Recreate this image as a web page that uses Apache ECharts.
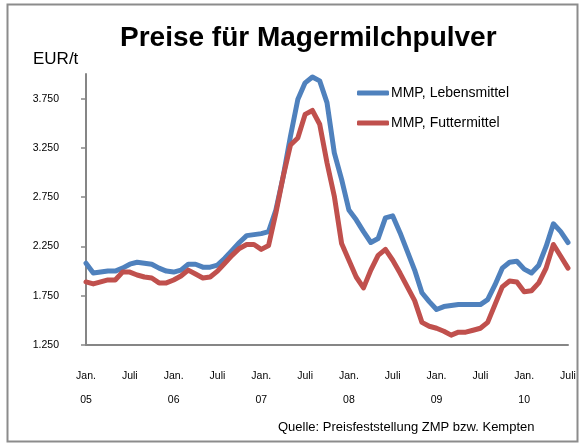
<!DOCTYPE html>
<html>
<head>
    <meta charset="utf-8">
    <title>Preise für Magermilchpulver</title>
    <script src="https://cdn.jsdelivr.net/npm/echarts@6.0.0/dist/echarts.min.js"></script>
    <style>
        html, body { margin: 0; padding: 0; background: #fff; }
    </style>
</head>
<body>
    <div id="main" style="width: 581px;height:443px;"></div>

<script>
// Monatswerte Jan. 05 bis Juli 10, EUR/t
const years = ['05', '06', '07', '08', '09', '10'];
const monthNames = ['Jan.', 'Feb.', 'März', 'Apr.', 'Mai', 'Juni', 'Juli', 'Aug.', 'Sep.', 'Okt.', 'Nov.', 'Dez.'];
const yTicks = [1250, 1750, 2250, 2750, 3250, 3750];

const lebensmittel = [
    2080, 1980, 1990, 2000, 2000, 2030, 2070, 2090, 2080, 2070, 2030, 2000,
    1990, 2010, 2070, 2070, 2040, 2040, 2060, 2130, 2210, 2290, 2360, 2370,
    2380, 2400, 2620, 2960, 3370, 3740, 3910, 3970, 3930, 3710, 3200, 2930,
    2620, 2520, 2400, 2290, 2330, 2540, 2560, 2390, 2200, 2010, 1780, 1690,
    1610, 1640, 1650, 1660, 1660, 1660, 1660, 1710, 1860, 2030, 2090, 2100,
    2020, 1980, 2060, 2250, 2480, 2400, 2290
];
const futtermittel = [
    1890, 1870, 1890, 1910, 1910, 1990, 1990, 1960, 1940, 1930, 1880, 1880,
    1910, 1950, 2010, 1970, 1930, 1940, 2000, 2080, 2160, 2230, 2270, 2270,
    2220, 2260, 2590, 2960, 3280, 3350, 3590, 3630, 3490, 3100, 2760, 2280,
    2110, 1940, 1830, 2010, 2160, 2220, 2110, 1980, 1840, 1700, 1480, 1440,
    1420, 1390, 1350, 1380, 1380, 1400, 1420, 1480, 1660, 1840, 1900, 1890,
    1790, 1800, 1880, 2030, 2270, 2150, 2030
];

const categories = [];
years.forEach(y => monthNames.forEach(m => categories.push(m + ' ' + y)));
categories.length = lebensmittel.length;

// deutsche Tausenderpunkte: 3750 -> 3.750
function fmtEUR(v) {
    return Math.floor(v / 1000) + '.' + String(v % 1000).padStart(3, '0');
}

const axisGray = '#868686';
const sans = '"Liberation Sans", Arial, sans-serif';

const myChart = echarts.init(document.getElementById('main'));

myChart.setOption({
    animation: false,
    title: {
        text: 'Preise für Magermilchpulver',
        left: 120,
        top: 24,
        padding: 0,
        textStyle: { fontFamily: sans, fontSize: 28, fontWeight: 'bold', color: '#000' }
    },
    legend: {
        orient: 'vertical',
        left: 357,
        top: 86,
        padding: 0,
        icon: 'roundRect',
        itemWidth: 32,
        itemHeight: 5,
        itemGap: 16,
        textStyle: { fontFamily: sans, fontSize: 14, lineHeight: 14, color: '#000', padding: [0, 0, 0, -3] },
        data: ['MMP, Lebensmittel', 'MMP, Futtermittel']
    },
    graphic: [
        {
            type: 'rect',
            shape: { x: 7.5, y: 4.5, width: 570, height: 437 },
            style: { fill: 'none', stroke: '#8c8c8c', lineWidth: 2 }
        },
        {
            type: 'text',
            left: 33,
            top: 51,
            style: { text: 'EUR/t', font: '17px "Liberation Sans", Arial', fill: '#000' }
        },
        {
            type: 'text',
            left: 278,
            top: 421,
            style: { text: 'Quelle: Preisfeststellung ZMP bzw. Kempten', font: '13px "Liberation Sans", Arial', fill: '#000' }
        }
    ],
    grid: { left: 86, right: 13, top: 74, bottom: 98 },
    xAxis: {
        type: 'category',
        data: categories,
        boundaryGap: false,
        axisLine: { lineStyle: { color: axisGray, width: 2 } },
        axisTick: { show: false },
        axisLabel: {
            interval: 5,
            margin: 19,
            lineHeight: 24,
            fontFamily: sans,
            fontSize: 10.5,
            color: '#000',
            formatter: v => v.startsWith('Jan.') ? v.replace(' ', '\n') : v.split(' ')[0]
        }
    },
    yAxis: {
        type: 'value',
        min: 1250,
        max: 4000,
        splitLine: { show: false },
        axisLine: { show: true, lineStyle: { color: axisGray, width: 2 } },
        axisTick: { show: true, length: 5, customValues: yTicks, lineStyle: { color: axisGray, width: 1.5 } },
        axisLabel: {
            customValues: yTicks,
            margin: 27,
            fontFamily: sans,
            fontSize: 10.5,
            color: '#000',
            formatter: fmtEUR
        }
    },
    series: [
        {
            name: 'MMP, Lebensmittel',
            type: 'line',
            data: lebensmittel,
            symbol: 'none',
            lineStyle: { color: '#4F81BD', width: 5, cap: 'round', join: 'round' },
            itemStyle: { color: '#4F81BD' }
        },
        {
            name: 'MMP, Futtermittel',
            type: 'line',
            data: futtermittel,
            symbol: 'none',
            lineStyle: { color: '#C0504D', width: 5, cap: 'round', join: 'round' },
            itemStyle: { color: '#C0504D' }
        }
    ]
});
</script>
</body>
</html>
